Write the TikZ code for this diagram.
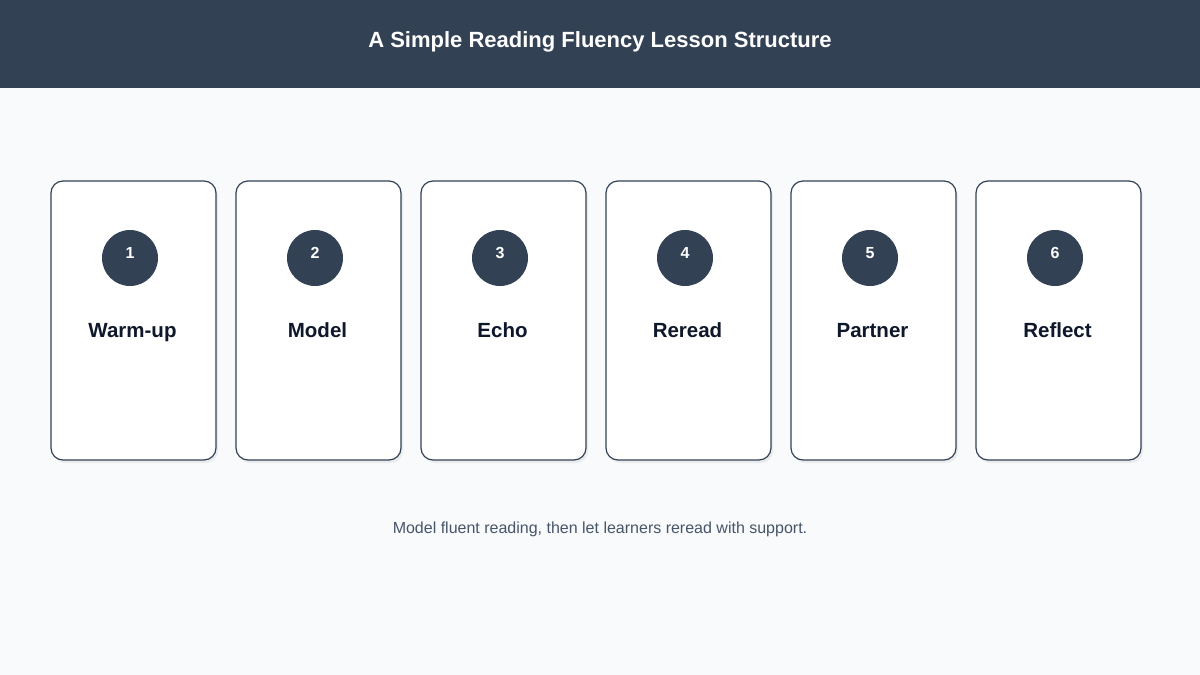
\documentclass[tikz,border=0pt]{standalone}
\usepackage{fontspec}
\setmainfont{Liberation Sans}
\usetikzlibrary{shadows}
\definecolor{dark}{HTML}{334155}
\definecolor{bg}{HTML}{F8FAFC}
\definecolor{ink}{HTML}{0F172A}
\definecolor{cap}{HTML}{475569}
\begin{document}
\begin{tikzpicture}[x=1pt,y=-1pt,
 card/.style={draw=dark,line width=1.2pt,fill=white,rounded corners=12pt,minimum width=165pt,minimum height=279pt,inner sep=0pt,drop shadow={shadow xshift=2pt,shadow yshift=-3pt,opacity=0.12}},
 num/.style={circle,fill=dark,minimum size=56pt,inner sep=0pt},
 numtxt/.style={anchor=base,text=white,font=\bfseries\fontsize{16}{18}\selectfont},
 lab/.style={anchor=base,text=ink,font=\bfseries\fontsize{20.5}{24}\selectfont}]
\fill[bg] (0,0) rectangle (1200,675);
\useasboundingbox (0,0) rectangle (1200,675);
\fill[dark] (0,0) rectangle (1200,88);
\node[anchor=base,text=white,font=\bfseries\fontsize{22}{26}\selectfont] (title) at (600,47.5) {A Simple Reading Fluency Lesson Structure};
\foreach \i/\t in {1/Warm-up,2/Model,3/Echo,4/Reread,5/Partner,6/Reflect}{
 \pgfmathsetmacro{\cx}{133.5+(\i-1)*185}
 \node[card] (c\i) at (\cx,320.5) {};
 \node[num] (n\i) at (\cx-3.5,258) {};
 \node[numtxt] (t\i) at (\cx-3.5,258) {\i};
 \node[lab] (l\i) at (\cx-1,337.5) {\t};
}
\node[anchor=base,text=cap,font=\fontsize{16}{19}\selectfont] (caption) at (600,533.5) {Model fluent reading, then let learners reread with support.};
\end{tikzpicture}
\end{document}
